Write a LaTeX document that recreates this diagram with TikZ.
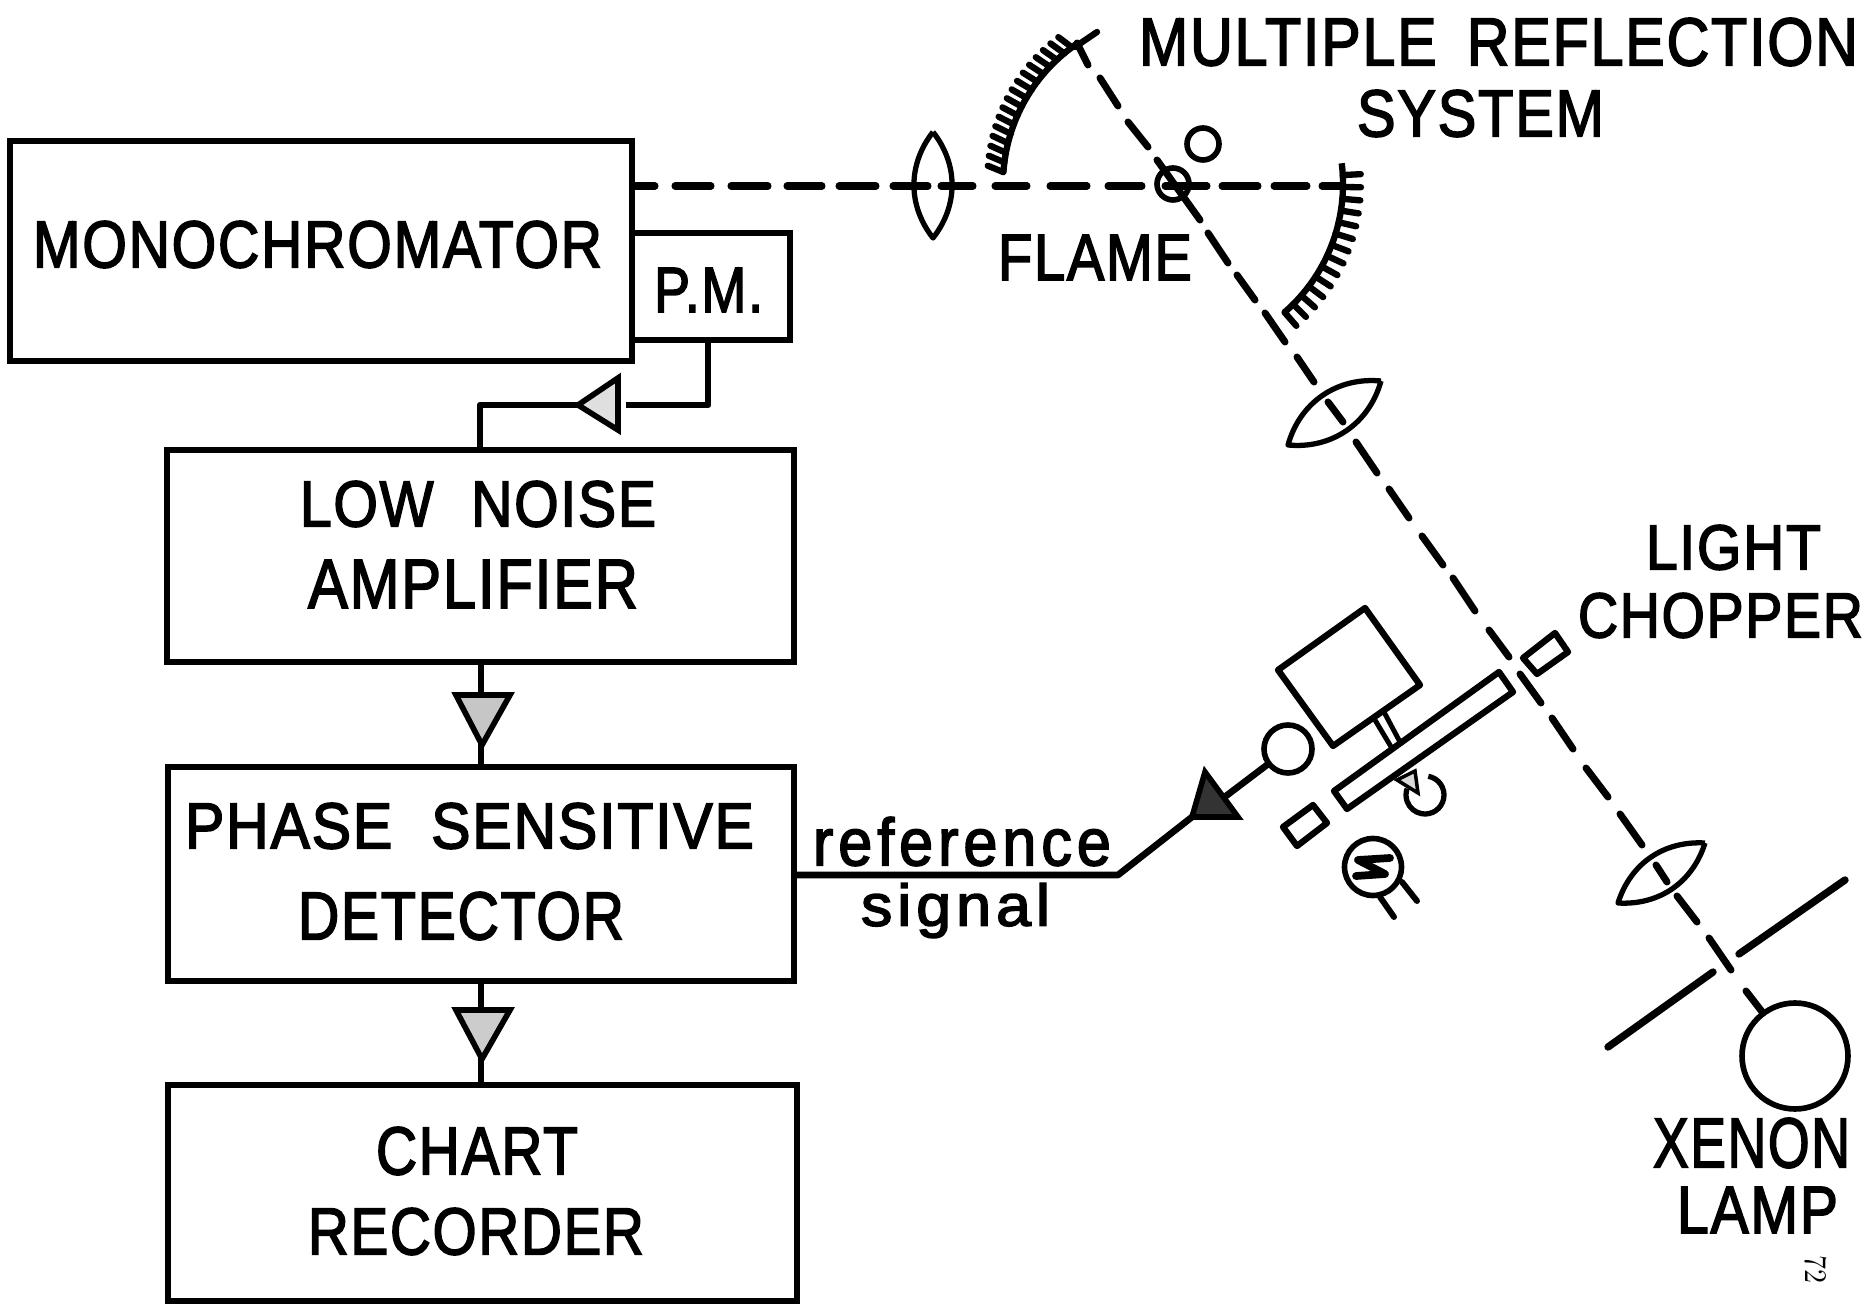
\documentclass[tikz,border=0pt]{standalone}
\usepackage{fontspec}
\usepackage{graphicx}
\newfontfamily\lblfont[FakeBold=2.5,LetterSpace=3]{Liberation Sans}
\newfontfamily\lowfont[FakeBold=2.5,LetterSpace=8]{Liberation Sans}
\newcommand{\lbl}[6]{%
  \pgfmathsetlengthmacro{\lblw}{(#4-#2)*0.02cm}%
  \pgfmathsetlengthmacro{\lblh}{(#5-#3)*0.02cm}%
  \node[txtlabel] (#1) at ({(#2+#4)/2},{(#3+#5)/2}) {\resizebox*{\lblw}{\lblh}{\lblfont #6}};}
\newcommand{\lowlbl}[6]{%
  \pgfmathsetlengthmacro{\lblw}{(#4-#2)*0.02cm}%
  \pgfmathsetlengthmacro{\lblh}{(#5-#3)*0.02cm}%
  \node[txtlabel] (#1) at ({(#2+#4)/2},{(#3+#5)/2}) {\resizebox*{\lblw}{\lblh}{\lowfont #6}};}
\tikzset{
  txtlabel/.style={inner sep=0pt,outer sep=0pt},
  blockbox/.style={draw=black,line width=3.8pt,fill=none,inner sep=0pt,outer sep=0pt,rectangle},
  wire/.style={draw=black,line width=3.8pt,line join=round},
  beam/.style={draw=black,line width=4pt,line cap=round},
  thin optic/.style={draw=black,line width=3pt,line join=round},
  optic/.style={draw=black,line width=3.6pt,line join=round},
  arrowfill/.style={draw=black,line width=3.2pt,line join=miter},
  tick/.style={draw=black,line width=3.6pt,line cap=round},
  ring/.style={draw=black,line width=3.2pt,circle,inner sep=0pt,outer sep=0pt},
}
\begin{document}
\begin{tikzpicture}[x=0.02cm,y=-0.02cm]
\useasboundingbox (0,0) rectangle (1870,1310);
\fill[white] (0,0) rectangle (1870,1310);

% instrument blocks
\node[blockbox,minimum width=12.44cm,minimum height=4.4cm] (mono) at (321,251) {};
\node[blockbox,minimum width=3.16cm,minimum height=2.14cm] (pm) at (711,286.5) {};
\node[blockbox,minimum width=12.54cm,minimum height=4.24cm] (low) at (480.5,556) {};
\node[blockbox,minimum width=12.52cm,minimum height=4.28cm] (psd) at (481,874) {};
\node[blockbox,minimum width=12.58cm,minimum height=4.32cm] (chart) at (482.5,1193) {};

\lbl{tmono}{33}{221}{602}{268}{MONOCHROMATOR}
\lbl{tpm}{654}{268}{763}{312}{P.M.}
\lbl{tlow}{300}{481}{656}{527}{LOW \hspace{.35em}NOISE}
\lbl{tamp}{308}{560}{638}{608}{AMPLIFIER}
\lbl{tphase}{185}{803}{754}{849}{PHASE \hspace{.35em}SENSITIVE}
\lbl{tdet}{298}{892}{624}{940}{DETECTOR}
\lbl{tchart}{376}{1127}{578}{1175}{CHART}
\lbl{trec}{308}{1208}{644}{1255}{RECORDER}
\lowlbl{tref}{813}{817}{1111}{866}{reference}
\lowlbl{tsig}{861}{883}{1050}{938}{signal}
\lbl{tflame}{998}{235}{1192}{280}{FLAME}
\lbl{tmult}{1139}{18}{1858}{66}{MULTIPLE \hspace{.2em}REFLECTION}
\lbl{tsys}{1357}{90}{1604}{137}{SYSTEM}
\lbl{tlight}{1646}{525}{1821}{570}{LIGHT}
\lbl{tchop}{1578}{593}{1863}{638}{CHOPPER}
\lbl{txen}{1653}{1118}{1850}{1168}{XENON}
\lbl{tlamp}{1677}{1187}{1838}{1233}{LAMP}
\node[txtlabel,rotate=-90] (tpage) at (1816,1269) {\resizebox*{0.56cm}{0.44cm}{\rmfamily 72}};

% signal wiring
\coordinate (k1) at (708,405);
\coordinate (k2) at (480,405);
\coordinate (a1) at (578,405);
\coordinate (a2) at (618,378);
\coordinate (a3) at (618,430);
\draw[wire] (pm.south -| k1) -- (k1) -- (k2) -- (low.north -| k2);
\fill[white] (a2) -- (a3) -- ([xshift=0.16cm]a3) -- ([xshift=0.16cm]a2) -- cycle;
\draw[arrowfill,fill=gray!25] (a1) -- (a2) -- (a3) -- cycle;

\coordinate (k3) at (481,700);
\coordinate (b1) at (482,745);
\coordinate (b2) at (456,695);
\coordinate (b3) at (510,695);
\draw[wire] (low.south -| k3) -- (psd.north -| k3);
\draw[arrowfill,fill=gray!45] (b1) -- (b2) -- (b3) -- cycle;

\coordinate (k4) at (481,1015);
\coordinate (c1) at (482,1059);
\coordinate (c2) at (456,1010);
\coordinate (c3) at (510,1010);
\draw[wire] (psd.south -| k4) -- (chart.north -| k4);
\draw[arrowfill,fill=gray!40] (c1) -- (c2) -- (c3) -- cycle;

% reference signal line
\coordinate (k5) at (1118,875);
\coordinate (d1) at (1192,817);
\coordinate (d2) at (1205,772);
\coordinate (d3) at (1238,817);
\coordinate (k6) at (1222,799);
\node[ring,minimum size=0.96cm] (det) at (1288,749) {};
\draw[wire] (psd.east |- k5) -- (k5) -- (d1);
\draw[wire] (k6) -- (det);
\draw[arrowfill,fill=black!80] (d1) -- (d2) -- (d3) -- cycle;

% horizontal beam
\foreach \xa/\xb in {633/655,675/711,731/768,787/822,839/876,893/928,941/973,995/1027,1050/1087,1108/1142,1165/1207,1222/1258,1274/1307,1322/1343}
  \draw[beam] (\xa,186) -- (\xb,186);

% diagonal beam
\foreach \xa/\ya/\xb/\yb in {1077/43/1088/65,1100/78/1118/106,1128/122/1148/147,1157/160/1200/220,1208/233/1228/263,1237/275/1255/300,1265/313/1285/342,1297/357/1314/382,1328/402/1343/422,1356/442/1377/473,1389/489/1409/518,1422/536/1443/565,1453/578/1475/611,1489/630/1509/657,1520/674/1541/703,1552/718/1573/749,1586/768/1608/797,1620/814/1642/845,1656/865/1667/882,1677/896/1697/922,1709/938/1731/970,1746/991/1763/1013}
  \draw[beam] (\xa,\ya) -- (\xb,\yb);

% lenses
\coordinate (l1a) at (933,132);
\coordinate (l1b) at (933,238);
\draw[thin optic] (l1a) to[bend left=38] (l1b) to[bend left=38] (l1a);
\coordinate (l2a) at (1381,381);
\coordinate (l2b) at (1288,445);
\draw[thin optic] (l2a) to[bend left=40] (l2b) to[bend left=40] (l2a);
\coordinate (l3a) at (1705,843);
\coordinate (l3b) at (1618,903);
\draw[thin optic] (l3a) to[bend left=38] (l3b) to[bend left=38] (l3a);

% mirrors
\draw[optic] ({1173+170*cos(176)},{184-170*sin(176)}) arc[start angle=-176,end angle=-124,radius=170];
\foreach \a in {176,172.7,169.4,166.1,162.8,159.5,156.2,152.9,149.6,146.3,143,139.7,136.4,133.1,129.8,126.5}
  \draw[tick] ({1173+170*cos(\a)},{184-170*sin(\a)}) -- ++({17*cos(150+0.3*(\a-150))},{-17*sin(150+0.3*(\a-150))});
\draw[tick] (1075,47) -- (1097,32);
\draw[optic] ({1173+170*cos(7)},{184-170*sin(7)}) arc[start angle=-7,end angle=49,radius=170];
\foreach \a in {3,-1,-5,-9,-13,-17,-21,-25,-29,-33,-37,-41,-45,-49}
  \draw[tick] ({1173+170*cos(\a)},{184-170*sin(\a)}) -- ++({18*cos(\a)},{-18*sin(\a)});

% flame and small circle
\node[ring,minimum size=0.64cm] (flame) at (1173,184) {};
\node[ring,minimum size=0.64cm] (small) at (1203,144) {};

% chopper
\draw[optic] (1365,608) -- (1420,685) -- (1333,746) -- (1278,670) -- cycle;
\draw[line width=2.8pt] (1375,720) -- (1393,750);
\draw[line width=2.8pt] (1384,712) -- (1400,742);
\draw[optic] (1499,672) -- (1513,692) -- (1347,809) -- (1334,791) -- cycle;
\draw[optic] (1555,633) -- (1568,652) -- (1537,674) -- (1523,658) -- cycle;
\draw[optic] (1313,805) -- (1327,823) -- (1297,846) -- (1283,827) -- cycle;

% rotation arrow
\draw[line width=3pt] ({1425+19*cos(80)},{795-19*sin(80)}) arc[start angle=-80,end angle=200,radius=19];
\draw[line width=2pt,fill=gray!30,line join=miter] (1397,780) -- (1415,771) -- (1418,793) -- cycle;

% motor symbol
\node[ring,minimum size=1.14cm] (motor) at (1373,867) {};
\draw[line width=4.4pt,line cap=round,line join=round] (1390,858) -- (1358,860) -- (1385,874) -- (1356,876);
\draw[line width=3.4pt,line cap=round] (1380,897) -- (1394,917);
\draw[line width=3.4pt,line cap=round] (1402,882) -- (1417,901);

% slit and lamp
\draw[line width=4.2pt,line cap=round] (1608,1047) -- (1713,972);
\draw[line width=4.2pt,line cap=round] (1739,954) -- (1845,880);
\node[ring,minimum size=2.12cm] (lamp) at (1795,1056) {};
\end{tikzpicture}
\end{document}
